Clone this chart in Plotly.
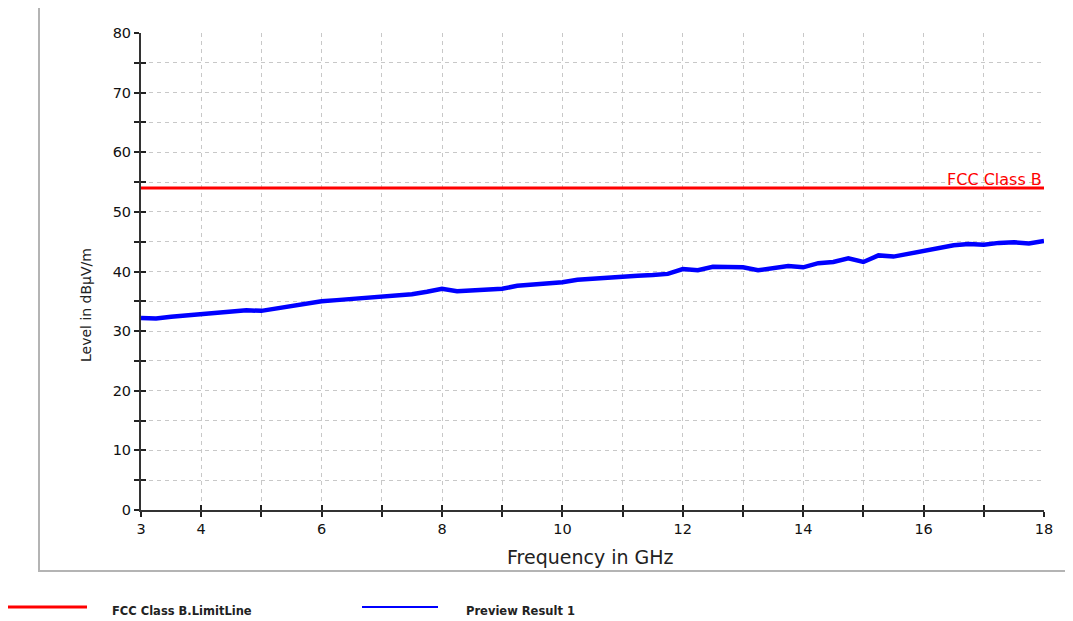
import plotly.graph_objects as go

# ---- data ----
freq_ghz = [3.00, 3.25, 3.50, 3.75, 4.00, 4.25, 4.50, 4.75, 5.00, 5.25, 5.50, 5.75,
            6.00, 6.25, 6.50, 6.75, 7.00, 7.25, 7.50, 7.75, 8.00, 8.25, 8.50, 8.75,
            9.00, 9.25, 9.50, 9.75, 10.00, 10.25, 10.50, 10.75, 11.00, 11.25, 11.50, 11.75,
            12.00, 12.25, 12.50, 12.75, 13.00, 13.25, 13.50, 13.75, 14.00, 14.25, 14.50, 14.75,
            15.00, 15.25, 15.50, 15.75, 16.00, 16.25, 16.50, 16.75, 17.00, 17.25, 17.50, 17.75,
            18.00]
preview_level = [32.2, 32.1, 32.4, 32.6, 32.9, 33.0, 33.3, 33.5, 33.4, 33.8, 34.3, 34.6,
                 35.0, 35.2, 35.4, 35.5, 35.7, 35.9, 36.2, 36.6, 37.1, 36.7, 36.8, 36.9,
                 37.1, 37.6, 37.8, 38.0, 38.2, 38.6, 38.8, 39.0, 39.1, 39.3, 39.4, 39.6,
                 40.4, 40.2, 40.8, 40.8, 40.7, 40.2, 40.6, 40.9, 40.7, 41.4, 41.6, 42.2,
                 41.6, 42.7, 42.5, 43.0, 43.4, 44.0, 44.4, 44.6, 44.5, 44.8, 44.9, 44.7,
                 45.1]
limit_freq = [3, 18]
limit_level = [54, 54]

x_tickvals = [3, 4, 5, 6, 7, 8, 9, 10, 11, 12, 13, 14, 15, 16, 17, 18]
x_ticktext = ["3", "4", "", "6", "", "8", "", "10", "", "12", "", "14", "", "16", "", "18"]
y_tickvals = [0, 5, 10, 15, 20, 25, 30, 35, 40, 45, 50, 55, 60, 65, 70, 75, 80]
y_ticktext = ["0", "", "10", "", "20", "", "30", "", "40", "", "50", "", "60", "", "70", "", "80"]

limit_name = "FCC Class B.LimitLine"
limit_label = "FCC Class B"
preview_name = "Preview Result 1"

FONT = "DejaVu Sans, Verdana, sans-serif"
OFF = 8  # page body margin offset
W, H = 1073 - OFF, 621 - OFF
L, R, T, B = 141 - OFF, 1044 - OFF, 33 - OFF, 510 - OFF


def px(xp):
    return (xp - OFF - L) / (R - L)


def py(yp):
    return (B - (yp - OFF)) / (B - T)


fig = go.Figure()
fig.add_trace(go.Scatter(x=limit_freq, y=limit_level, mode="lines",
                         line=dict(color="#ff0000", width=3), name=limit_name,
                         showlegend=False))
fig.add_trace(go.Scatter(x=freq_ghz, y=preview_level, mode="lines",
                         line=dict(color="#0000ff", width=4.5), name=preview_name,
                         showlegend=False))
# invisible trace to enable the inside tick axes
fig.add_trace(go.Scatter(x=[3], y=[0], xaxis="x2", yaxis="y2", mode="markers",
                         marker=dict(opacity=0), showlegend=False, hoverinfo="skip"))

axis_common = dict(showline=True, linecolor="#333333", linewidth=2, ticks="outside",
                   ticklen=5, tickwidth=1.5, tickcolor="#222222", zeroline=False,
                   tickfont=dict(family=FONT, size=14.5, color="#111111"),
                   showgrid=True, gridcolor="#c8c8c8", griddash="4px,4px", gridwidth=1)

fig.update_layout(
    width=W, height=H,
    margin=dict(l=L, r=W - R, t=T, b=H - B),
    paper_bgcolor="white", plot_bgcolor="white",
    showlegend=False,
    xaxis=dict(range=[3, 18], tickmode="array", tickvals=x_tickvals, ticktext=x_ticktext,
               **axis_common),
    yaxis=dict(range=[0, 80], tickmode="array", tickvals=y_tickvals, ticktext=y_ticktext,
               **axis_common),
    xaxis2=dict(range=[3, 18], overlaying="x", anchor="y", side="bottom", tickmode="array",
                tickvals=x_tickvals, showticklabels=False, ticks="inside", ticklen=5,
                tickwidth=1.5, tickcolor="#222222", showgrid=False, showline=False,
                zeroline=False),
    yaxis2=dict(range=[0, 80], overlaying="y", anchor="x", side="left", tickmode="array",
                tickvals=y_tickvals, showticklabels=False, ticks="inside", ticklen=5,
                tickwidth=1.5, tickcolor="#222222", showgrid=False, showline=False,
                zeroline=False),
)

shapes = [
    # outer frame
    dict(type="rect", xref="paper", yref="paper", x0=px(39), x1=px(1080), y0=py(571), y1=py(5),
         line=dict(color="#b4b4b4", width=2), fillcolor="rgba(0,0,0,0)", layer="below"),
    # legend lines
    dict(type="line", xref="paper", yref="paper", x0=px(8), x1=px(87), y0=py(607), y1=py(607),
         line=dict(color="#ff0000", width=3)),
    dict(type="line", xref="paper", yref="paper", x0=px(362), x1=px(438), y0=py(607), y1=py(607),
         line=dict(color="#0000ff", width=2)),
]
fig.update_layout(shapes=shapes)

annotations = [
    dict(text="Frequency in GHz", xref="paper", yref="paper", x=px(590), y=py(557),
         xanchor="center", yanchor="middle", showarrow=False,
         font=dict(family=FONT, size=19, color="#222222")),
    dict(text="Level in dBµV/m", xref="paper", yref="paper", x=px(86), y=py(305),
         xanchor="center", yanchor="middle", textangle=-90, showarrow=False,
         font=dict(family=FONT, size=14, color="#222222")),
    dict(text=limit_label, xref="x", yref="y", x=18, y=limit_level[-1], xanchor="right",
         yanchor="bottom", yshift=-3, showarrow=False,
         font=dict(family=FONT, size=16, color="#ff0000")),
    dict(text="<b>" + limit_name + "</b>", xref="paper", yref="paper", x=px(110), y=py(611),
         xanchor="left", yanchor="middle", showarrow=False,
         font=dict(family=FONT, size=11.5, color="#222222")),
    dict(text="<b>" + preview_name + "</b>", xref="paper", yref="paper", x=px(464), y=py(611),
         xanchor="left", yanchor="middle", showarrow=False,
         font=dict(family=FONT, size=11.5, color="#222222")),
]
fig.update_layout(annotations=annotations)

fig.write_html("out.html")
